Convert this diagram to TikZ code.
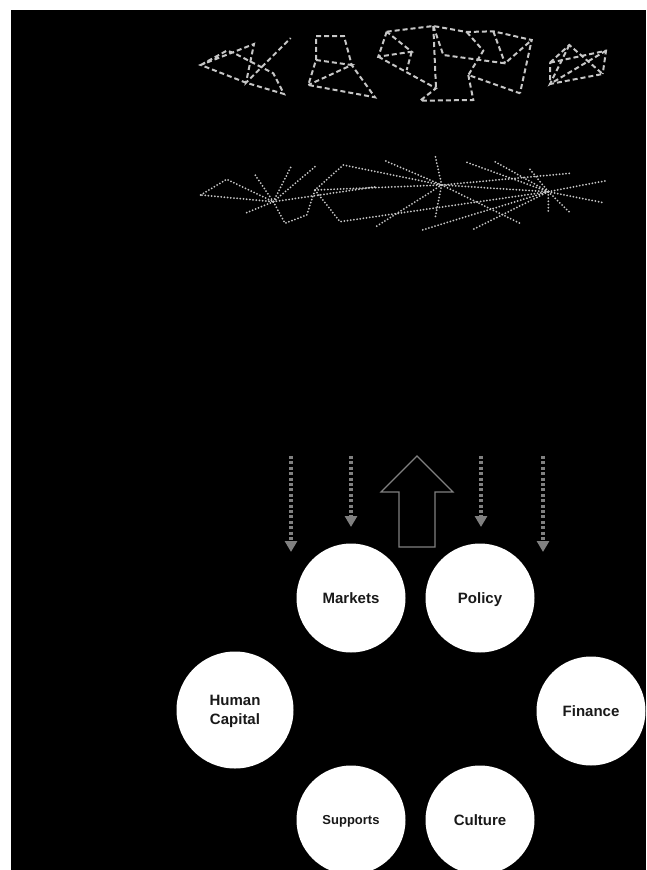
\documentclass[tikz,border=0pt]{standalone}
\usepackage{fontspec}
\newfontfamily\labfont{Liberation Sans}
\usepackage{tikz}
\usetikzlibrary{positioning, arrows.meta}

\begin{document}
\begin{tikzpicture}[x=1pt, y=-1pt, node distance=129pt]
    % Stili
    \tikzstyle{circ} = [circle, fill=white, inner sep=0pt, minimum size=109pt, align=center,
        text height=10.7pt, text depth=0pt,
        font=\labfont\bfseries\fontsize{15}{19}\selectfont, text=black!90]
    \tikzstyle{dashnet} = [draw=gray!45, line width=2pt, dash pattern=on 5pt off 3pt]
    \tikzstyle{dotnet} = [draw=gray!45, line width=2pt, line cap=round, dash pattern=on 0pt off 3.2pt]
    \tikzstyle{dotarr} = [draw=gray, line width=3.3pt, dash pattern=on 3pt off 2.4pt,
        -{Triangle[width=12pt, length=11pt]}]

    % Sfondo
    \useasboundingbox (0,0) rectangle (646,870);
    \fill[white] (0,0) rectangle (646,870);
    \fill[black] (11,10) rectangle (646,870);

    % Rete tratteggiata (in alto)
    \coordinate (a1) at (200.7,65);  \coordinate (a2) at (226.7,50.7);
    \coordinate (a3) at (233.3,52.7); \coordinate (a4) at (254,44);
    \coordinate (a5) at (246,82.7);  \coordinate (a6) at (273.3,73.3);
    \coordinate (a7) at (284,94);    \coordinate (a8) at (290.7,38);
    \draw[dashnet] (a1) -- (a2) -- (a3) -- (a6) -- (a7) -- (a5) -- (a1) -- (a4) -- (a5) -- (a8);

    \coordinate (b1) at (316,36);    \coordinate (b2) at (344,36);
    \coordinate (b3) at (351.7,65);  \coordinate (b4) at (375,97.3);
    \coordinate (b5) at (308.3,85);  \coordinate (b6) at (316,60);
    \draw[dashnet] (b1) -- (b2) -- (b3) -- (b4) -- (b5) -- (b6) -- cycle;
    \draw[dashnet] (b6) -- (b3) -- (b5);

    \coordinate (c1) at (386.7,31.7); \coordinate (c2) at (433.3,26);
    \coordinate (c3) at (466.7,32);   \coordinate (c4) at (493.3,31.3);
    \coordinate (c5) at (531.7,40);   \coordinate (c6) at (520,93.3);
    \coordinate (c7) at (468.3,75);   \coordinate (c8) at (473.3,100);
    \coordinate (c9) at (420,100.7);  \coordinate (c10) at (436,88.3);
    \coordinate (c11) at (378.3,56.7); \coordinate (c12) at (411.7,51.7);
    \coordinate (c13) at (406.7,70);  \coordinate (c14) at (443.3,55);
    \coordinate (c15) at (483.3,50.7); \coordinate (c16) at (505,63.3);
    \draw[dashnet] (c1) -- (c2) -- (c3) -- (c4) -- (c5) -- (c6);
    \draw[dashnet] (c1) -- (c11) -- (c12) -- (c1);
    \draw[dashnet] (c12) -- (c13);
    \draw[dashnet] (c11) -- (c10) -- (c9) -- (c8) -- (c7);
    \draw[dashnet] (c2) -- (c10);
    \draw[dashnet] (c2) -- (c14) -- (c16) -- (c5);
    \draw[dashnet] (c3) -- (c15) -- (c7) -- (c6);
    \draw[dashnet] (c4) -- (c16);

    \coordinate (d1) at (550,62.7);   \coordinate (d2) at (569.3,45);
    \coordinate (d3) at (606,50.7);   \coordinate (d4) at (602.7,74);
    \coordinate (d5) at (550,84);
    \draw[dashnet] (d1) -- (d2) -- (d4) -- (d5) -- cycle;
    \draw[dashnet] (d1) -- (d3) -- (d4);
    \draw[dashnet] (d2) -- (d5) -- (d3);

    % Rete a stella (punteggiata)
    \coordinate (h1) at (273.3,201.7); \coordinate (h2) at (315,190);
    \coordinate (h3) at (441.7,185);   \coordinate (h4) at (548.3,191.7);
    \coordinate (e1) at (200.7,195);  \coordinate (e2) at (226.7,179.3);
    \coordinate (e3) at (254,173.3);  \coordinate (e4) at (290.7,167.3);
    \coordinate (e5) at (315,166.7);  \coordinate (e6) at (245,213.3);
    \coordinate (e7) at (285,223.3);  \coordinate (e8) at (306.7,215);
    \coordinate (e9) at (343.3,165);  \coordinate (e10) at (340,221.7);
    \coordinate (e11) at (376.7,186.7); \coordinate (e12) at (385,160.7);
    \coordinate (e13) at (435,155);   \coordinate (e14) at (375,227.3);
    \coordinate (e15) at (435,218.3); \coordinate (e16) at (520,223.3);
    \coordinate (e17) at (465,161.7); \coordinate (e18) at (493.3,160.7);
    \coordinate (e19) at (530,169.3); \coordinate (e20) at (570,173.3);
    \coordinate (e21) at (606,180.7); \coordinate (e22) at (603.3,202.7);
    \coordinate (e23) at (570,212.7); \coordinate (e24) at (548.3,213.3);
    \coordinate (e25) at (473.3,229.3); \coordinate (e26) at (420,230.7);
    \draw[dotnet] (e1) -- (e2) -- (h1) -- (e1);
    \foreach \p in {e3,e4,e5,e6,e11} \draw[dotnet] (h1) -- (\p);
    \draw[dotnet] (h1) -- (e7) -- (e8) -- (h2) -- (e9) -- (h3);
    \draw[dotnet] (h2) -- (e10) -- (h4);
    \draw[dotnet] (h2) -- (h3);
    \foreach \p in {e12,e13,e14,e15,e16,e20} \draw[dotnet] (h3) -- (\p);
    \foreach \p in {e17,e18,e19,e21,e22,e23,e24,e25,e26,h3} \draw[dotnet] (h4) -- (\p);

    % Frecce verso i cerchi
    \coordinate (s1) at (291,456); \coordinate (t1) at (291,552);
    \coordinate (s2) at (351,456); \coordinate (t2) at (351,527);
    \coordinate (s3) at (481,456); \coordinate (t3) at (481,527);
    \coordinate (s4) at (543,456); \coordinate (t4) at (543,552);
    \draw[dotarr] (s1) -- (t1);
    \draw[dotarr] (s2) -- (t2);
    \draw[dotarr] (s3) -- (t3);
    \draw[dotarr] (s4) -- (t4);

    % Freccia grande verso l'alto
    \draw[gray, line width=1.2pt] (417,456) -- (453,492) -- (435,492) -- (435,547)
        -- (399,547) -- (399,492) -- (381,492) -- cycle;

    % Cerchi
    \node[circ] (markets) at (351,598) {Markets};
    \node[circ, right of=markets] (policy) {Policy};
    \node[circ, minimum size=117pt, text height=29.7pt] (human) at (235,710) {Human\\Capital};
    \node[circ] (finance) at (591,711) {Finance};
    \node[circ, below of=markets, node distance=222pt, text height=9.3pt,
        font=\labfont\bfseries\fontsize{13}{16}\selectfont] (supports) {Supports};
    \node[circ, right of=supports] (culture) {Culture};

\end{tikzpicture}
\end{document}
